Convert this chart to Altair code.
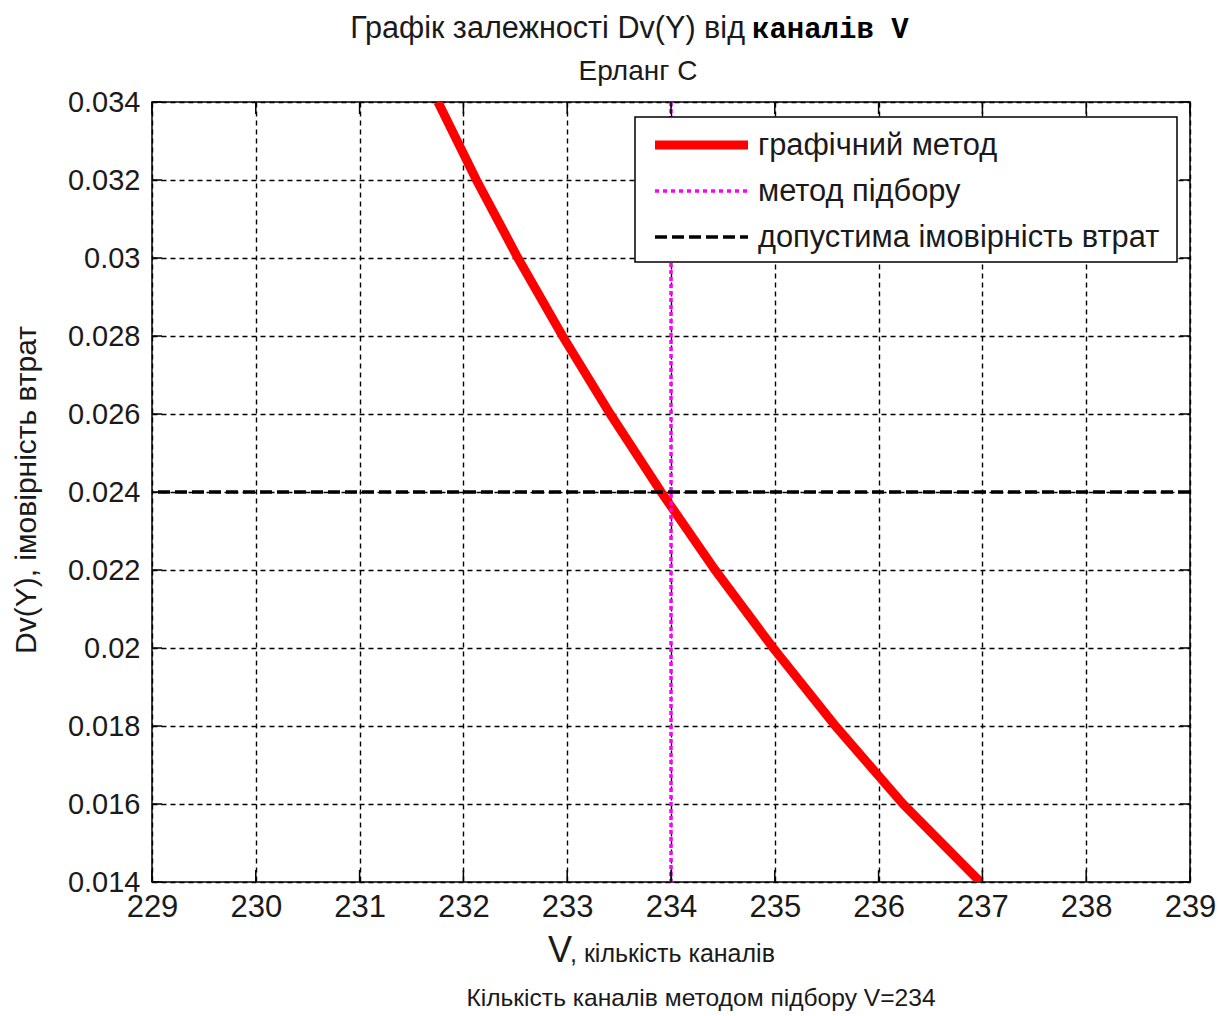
import altair as alt
import pandas as pd

# ---- data ----
V_CURVE = [231.755, 232.125, 232.525, 232.955, 233.415, 233.905, 234.425, 234.985, 235.585,
           236.235, 236.98]
D_CURVE = [0.034, 0.032, 0.030, 0.028, 0.026, 0.024, 0.022, 0.020, 0.018, 0.016, 0.014]
V_SELECTED = [234]
D_ALLOWED = [0.024]
X_TICKS = [229, 230, 231, 232, 233, 234, 235, 236, 237, 238, 239]
Y_TICKS = [0.014, 0.016, 0.018, 0.020, 0.022, 0.024, 0.026, 0.028, 0.030, 0.032, 0.034]
LEGEND_LABELS = ["графічний метод", "метод підбору", "допустима імовірність втрат"]
TITLE_MAIN = "Графік залежності Dv(Y) від"
TITLE_MONO = "каналів V"
SUBTITLE = "Ерланг С"
X_TITLE_V = "V"
X_TITLE_REST = ", кількість каналів"
Y_TITLE = "Dv(Y), імовірність втрат"
NOTE = "Кількість каналів методом підбору V=234"

W, H = 1038, 780
SANS = "Liberation Sans, Arial, sans-serif"
MONO = "Liberation Mono, Courier New, monospace"

curve = pd.DataFrame({"V": V_CURVE, "D": D_CURVE})
one = pd.DataFrame({"k": [0]})

xscale = alt.Scale(domain=[X_TICKS[0], X_TICKS[-1]], nice=False, zero=False)
yscale = alt.Scale(domain=[Y_TICKS[0], Y_TICKS[-1]], nice=False, zero=False)

xaxis = alt.Axis(values=X_TICKS, format="d", grid=True, gridDash=[5, 4], gridColor="black",
                 gridWidth=1.4, gridOpacity=1, ticks=False, domain=False, labelFont=SANS,
                 labelFontSize=31, labelColor="#1a1a1a", labelPadding=10, labelFlush=False,
                 labelOverlap=False, title=None)
yaxis = alt.Axis(values=Y_TICKS, labelExpr="format(datum.value, '.3~f')", grid=True,
                 gridDash=[5, 4], gridColor="black", gridWidth=1.4, gridOpacity=1, ticks=False,
                 domain=False, labelFont=SANS, labelFontSize=29, labelColor="#1a1a1a",
                 labelPadding=12, labelOverlap=False, labelFlush=False, title=None)

red = alt.Chart(curve).mark_line(color="#ff0000", strokeWidth=9, clip=True).encode(
    x=alt.X("V:Q", scale=xscale, axis=xaxis),
    y=alt.Y("D:Q", scale=yscale, axis=yaxis),
)

magenta = alt.Chart(pd.DataFrame({"V": V_SELECTED})).mark_rule(
    color="#ff00ff", strokeWidth=3.5, strokeDash=[4, 3]).encode(
    x=alt.X("V:Q", scale=xscale, axis=xaxis))

black = alt.Chart(pd.DataFrame({"D": D_ALLOWED})).mark_rule(
    color="black", strokeWidth=3.5, strokeDash=[12, 5]).encode(
    y=alt.Y("D:Q", scale=yscale, axis=yaxis))

tx = pd.DataFrame({"V": X_TICKS})
ty = pd.DataFrame({"D": Y_TICKS})
tick_b = alt.Chart(tx).mark_rule(color="black", strokeWidth=1.5).encode(
    x=alt.X("V:Q", scale=xscale, axis=xaxis), y=alt.value(H), y2=alt.value(H - 12))
tick_t = alt.Chart(tx).mark_rule(color="black", strokeWidth=1.5).encode(
    x=alt.X("V:Q", scale=xscale, axis=xaxis), y=alt.value(0), y2=alt.value(12))
tick_l = alt.Chart(ty).mark_rule(color="black", strokeWidth=1.5).encode(
    y=alt.Y("D:Q", scale=yscale, axis=yaxis), x=alt.value(0), x2=alt.value(10))
tick_r = alt.Chart(ty).mark_rule(color="black", strokeWidth=1.5).encode(
    y=alt.Y("D:Q", scale=yscale, axis=yaxis), x=alt.value(W), x2=alt.value(W - 10))

# legend (drawn on top)
LX0, LX1, LY0, LY1 = 483, 1025, 15, 160
leg_box = alt.Chart(one).mark_rect(fill="white", stroke="black", strokeWidth=1.5).encode(
    x=alt.value(LX0), x2=alt.value(LX1), y=alt.value(LY0), y2=alt.value(LY1))
rows = [43, 89, 135]
leg_red = alt.Chart(one).mark_rule(color="#ff0000", strokeWidth=9).encode(
    x=alt.value(503), x2=alt.value(596), y=alt.value(rows[0]))
leg_mag = alt.Chart(one).mark_rule(color="#ff00ff", strokeWidth=3.5, strokeDash=[4, 4]).encode(
    x=alt.value(503), x2=alt.value(596), y=alt.value(rows[1]))
leg_blk = alt.Chart(one).mark_rule(color="black", strokeWidth=3.5, strokeDash=[12, 5]).encode(
    x=alt.value(503), x2=alt.value(596), y=alt.value(rows[2]))
leg_txt = [
    alt.Chart(one).mark_text(align="left", baseline="middle", font=SANS, fontSize=30.8,
                             color="#1a1a1a").encode(
        x=alt.value(606), y=alt.value(r + 1), text=alt.value(lbl))
    for lbl, r in zip(LEGEND_LABELS, rows)
]


def txt(s, x, y, size, font=SANS, align="left", weight="normal", angle=0, color="#1a1a1a",
        baseline="alphabetic"):
    return alt.Chart(one).mark_text(align=align, baseline=baseline, font=font, fontSize=size,
                                    fontWeight=weight, angle=angle, color=color).encode(
        x=alt.value(x), y=alt.value(y), text=alt.value(s))


texts = [
    txt(TITLE_MAIN, 593, -64, 30.6, align="right"),
    txt(TITLE_MONO, 600, -64, 29, font=MONO, weight="bold", color="black"),
    txt(SUBTITLE, 486, -22, 28, align="center"),
    txt(X_TITLE_V, 396, 860, 36),
    txt(X_TITLE_REST, 418, 860, 25),
    txt(NOTE, 549, 904, 24.6, align="center"),
    txt(Y_TITLE, -125, 388, 30, align="center", angle=270, baseline="middle"),
]

chart = alt.layer(
    red, magenta, black, tick_b, tick_t, tick_l, tick_r,
    leg_box, leg_red, leg_mag, leg_blk, *leg_txt, *texts
).properties(
    width=W, height=H,
    autosize=alt.AutoSizeParams(type="none"),
    padding={"left": 152, "top": 102, "right": 40, "bottom": 134},
    background="white",
).configure_view(stroke="black", strokeWidth=1.5)

chart.save("out.html", embed_options={"renderer": "svg", "actions": False})
